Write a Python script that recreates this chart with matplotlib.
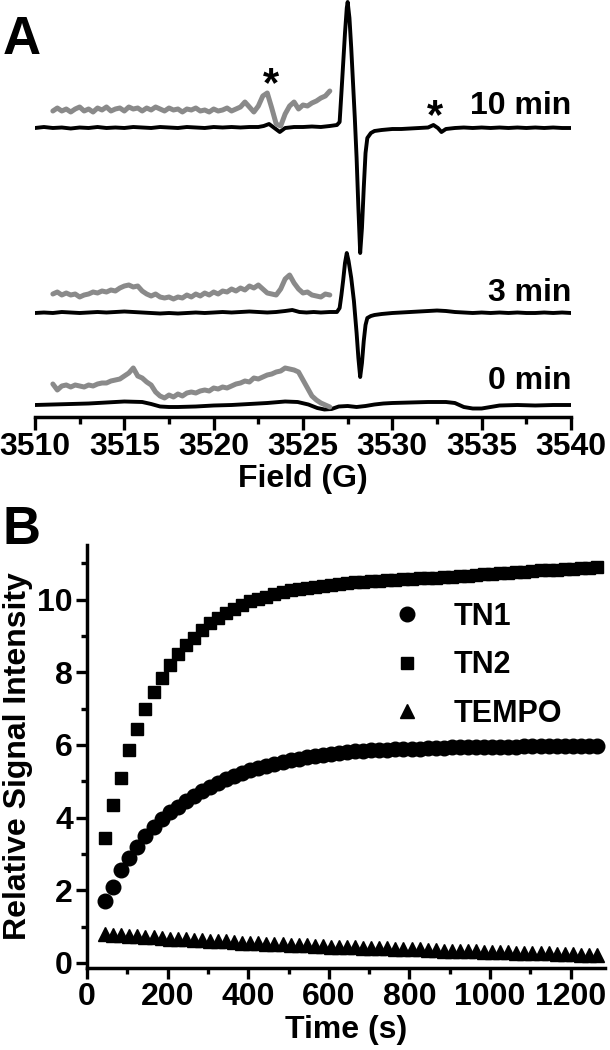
import numpy as np
import matplotlib
matplotlib.use("Agg")
import matplotlib.pyplot as plt

plt.rcParams['font.family'] = ['Liberation Sans', 'DejaVu Sans']
plt.rcParams['font.weight'] = 'bold'

W, H = 610, 1050

# ---------------- panel A: EPR spectra (a.u., baseline = 0) ----------------
field_10 = [3510.0, 3510.5, 3511.0, 3511.5, 3512.0, 3512.5, 3513.0, 3513.5, 3514.0,
            3514.5, 3515.0, 3515.5, 3516.0, 3516.5, 3517.0, 3517.5, 3518.0, 3518.5,
            3519.0, 3519.5, 3520.0, 3520.5, 3521.0, 3521.5, 3522.0, 3522.5, 3522.8,
            3523.1, 3523.4, 3523.7, 3524.0, 3524.5, 3525.0, 3525.5, 3526.0, 3526.5,
            3526.9, 3527.05, 3527.15, 3527.25, 3527.35, 3527.45, 3527.5, 3527.6,
            3527.7, 3527.8, 3527.9, 3528.0, 3528.1, 3528.2, 3528.3, 3528.4, 3528.5,
            3528.6, 3528.8, 3529.0, 3529.4, 3530.0, 3530.5, 3531.0, 3531.5, 3532.0,
            3532.3, 3532.55, 3532.75, 3533.0, 3533.5, 3534.0, 3534.5, 3535.0, 3535.5,
            3536.0, 3536.5, 3537.0, 3537.5, 3538.0, 3538.5, 3539.0, 3539.5, 3540.0]
sig_10 = [0, 1, 0, 0.5, -0.5, 0.5, 0, 1, 0, 0.5, 0, 1, 0.5, 0, 1, 0.5, 0, 1,
          0.5, 0, 1, 0.5, 1, 0.5, 1, 1, 2, 4, 0, -4, 0, 1, 1, 1.5, 1, 2,
          3, 6, 35, 65, 95, 120, 126, 110,
          80, 45, 10, -30, -80, -125, -100, -60, -25,
          -10, -5, -3, -2, -1, -1, -0.5, 0, 0.5,
          3, 0, -4, -1, 0, 0.5, 0, 0.5, 0,
          0.5, 0, 0.5, 0, 0.5, 0, 0.5, 0, 0]

field_3 = [3510.0, 3510.5, 3511.0, 3511.5, 3512.0, 3512.5, 3513.0, 3513.5, 3514.0,
           3514.5, 3515.0, 3515.5, 3516.0, 3516.5, 3517.0, 3517.5, 3518.0, 3518.5,
           3519.0, 3519.5, 3520.0, 3520.5, 3521.0, 3521.5, 3522.0, 3522.5, 3523.0,
           3523.5, 3524.0, 3524.4, 3524.8, 3525.2, 3525.6, 3526.0, 3526.5, 3526.9,
           3527.05, 3527.15, 3527.25, 3527.35, 3527.45, 3527.55, 3527.7, 3527.85,
           3528.0, 3528.1, 3528.2, 3528.3, 3528.4, 3528.5, 3528.6, 3528.8, 3529.0,
           3529.4, 3530.0, 3530.5, 3531.0, 3531.5, 3532.0, 3532.5, 3533.0, 3533.5,
           3534.0, 3534.5, 3535.0, 3535.5, 3536.0, 3536.5, 3537.0, 3537.5, 3538.0,
           3538.5, 3539.0, 3539.5, 3540.0]
sig_3 = [0, 0.5, 0, 1, 0.5, 0, 0.5, 1, 0.5, 1, 1.5, 1, 0.5, 0, -0.5, 0, -0.5, 0,
         0.5, 0, 0.5, 1, 0.5, 1, 1.5, 1, 0.5, 1, 2, 3, 1, 0.5, 1, 0.5, 1, 1,
         5, 18, 33, 50, 60, 52, 35, 12,
         -20, -45, -64, -50, -28, -12, -5, -3, -2,
         -1, 0, 0.5, 1, 1.5, 2, 2.5, 2, 1,
         0.5, 0, 0.5, 0, 0.5, 0, 0.5, 0, 0,
         0.5, 0, 0.5, 0]

field_0 = [3510.0, 3511.0, 3512.0, 3513.0, 3514.0, 3515.0, 3516.0, 3516.5, 3517.0,
           3517.5, 3518.0, 3519.0, 3520.0, 3521.0, 3522.0, 3523.0, 3524.0, 3524.7,
           3525.3, 3525.8, 3526.2, 3526.6, 3527.0, 3527.5, 3528.0, 3528.5, 3529.0,
           3529.5, 3530.0, 3531.0, 3532.0, 3533.0, 3533.5, 3534.0, 3534.5, 3535.0,
           3535.5, 3536.0, 3537.0, 3538.0, 3539.0, 3540.0]
sig_0 = [0, 0.5, 1, 1.5, 2.5, 3.5, 3, 1, -1.5, -2, -2, -1.5, -0.5, 0, 1, 2, 3.5, 3,
         0.5, -3, -4.5, -4, -1.5, -1, -2, -1, 0.5, 1.5, 2, 2.5, 3, 3, 2, -2, -3.5, -3.5,
         -2, -0.5, 0, -0.5, 0, 0]

# grey traces: magnified low-field region (a.u., baseline = 0)
field_grey = np.arange(3511.0, 3526.51, 0.25)
grey_10 = [-1, 2, -1, 1, -2, 1, 3, -1, 1, -2, 2, 0, 3, -1, 1, 2, -1, 3, 1, 2, -1,
           2, 0, 3, 1, -1, 2, 0, 1, -2, 1, 0, 2, -1, 0, -2, 1, -1, 0, 2, -1, 1, 3,
           8, 3, -2, 4, 14, 17, 2, -14, -16, -4, 4, 8, 1, 5, 4, 7, 9, 12, 14, 19]
grey_3 = [1, 3, 0, 2, 0, 1, -2, 0, 1, 3, 2, 4, 3, 5, 4, 7, 9, 10, 8, 9, 4, 1,
          -1, 1, -2, -3, -2, -4, -2, -3, 0, -2, 1, -1, 2, 0, 3, 1, 4, 3, 6, 4, 7,
          5, 9, 7, 10, 6, 2, 1, 0, 6, 16, 20, 12, 6, 2, 3, 0, -1, -2, 1, 0]
grey_0 = [6, 0, 4, 5, 3, 5, 4, 3, 5, 4, 6, 7, 7, 9, 10, 11, 14, 17, 22, 14, 12,
          8, 5, -2, -6, -8, -5, -7, -4, -6, -3, -2, -3, -1, 0, -1, 2, 1, 3, 2, 4,
          6, 7, 9, 8, 12, 11, 13, 15, 16, 18, 19, 22, 21, 20, 18, 10, 2, -6, -10,
          -13, -15, -17]

trace_labels = ["10 min", "3 min", "0 min"]
black_offsets = [289, 104, 12]
grey_offsets = [307, 122, 27]
label_offsets = [311, 124, 36]

# ---------------- panel B: kinetics ----------------
time_s = np.arange(45, 1266, 20)
tn1 = [1.7, 2.1, 2.55, 2.9, 3.2, 3.5, 3.75, 3.95, 4.15, 4.3, 4.45, 4.6, 4.72, 4.85,
       4.95, 5.05, 5.15, 5.22, 5.3, 5.37, 5.43, 5.48, 5.53, 5.58, 5.62, 5.66, 5.7,
       5.73, 5.76, 5.78, 5.8, 5.82, 5.84, 5.85, 5.86, 5.87, 5.88, 5.89, 5.9, 5.9,
       5.91, 5.92, 5.92, 5.93, 5.93, 5.94, 5.94, 5.94, 5.95, 5.95, 5.95, 5.95, 5.96,
       5.96, 5.96, 5.96, 5.96, 5.96, 5.96, 5.96, 5.96, 5.96]
tn2 = [3.45, 4.35, 5.1, 5.85, 6.45, 7.0, 7.45, 7.85, 8.2, 8.5, 8.75, 8.95, 9.15,
       9.35, 9.5, 9.62, 9.75, 9.85, 9.95, 10.02, 10.08, 10.14, 10.2, 10.25, 10.28,
       10.32, 10.35, 10.38, 10.4, 10.42, 10.45, 10.47, 10.48, 10.5, 10.52, 10.53,
       10.55, 10.56, 10.57, 10.58, 10.6, 10.6, 10.62, 10.63, 10.65, 10.66, 10.68,
       10.7, 10.7, 10.72, 10.73, 10.75, 10.76, 10.78, 10.8, 10.8, 10.82, 10.84,
       10.85, 10.87, 10.88, 10.9]
tempo = [0.80, 0.78, 0.76, 0.75, 0.73, 0.72, 0.70, 0.69, 0.67, 0.66, 0.65, 0.63,
         0.62, 0.61, 0.60, 0.59, 0.58, 0.56, 0.55, 0.54, 0.53, 0.52, 0.51, 0.50,
         0.49, 0.48, 0.47, 0.46, 0.45, 0.45, 0.44, 0.43, 0.42, 0.41, 0.40, 0.40,
         0.39, 0.38, 0.37, 0.37, 0.36, 0.35, 0.34, 0.34, 0.33, 0.32, 0.32, 0.31,
         0.30, 0.30, 0.29, 0.28, 0.28, 0.27, 0.26, 0.26, 0.25, 0.24, 0.24, 0.23,
         0.22, 0.22]
series = [("TN1", tn1, "o", 10.5), ("TN2", tn2, "s", 9), ("TEMPO", tempo, "^", 10)]


def px_axes(left, top, right, bottom):
    return [left / W, 1 - bottom / H, (right - left) / W, (bottom - top) / H]


fig = plt.figure(figsize=(W / 100, H / 100), dpi=100)
FS = 23

# ---- panel A ----
axA = fig.add_axes(px_axes(35, 0, 571, 417))
spectra = [(field_10, sig_10), (field_3, sig_3), (field_0, sig_0)]
greys = [grey_10, grey_3, grey_0]
for (fx, sy), g, lab, ob, og, ol in zip(spectra, greys, trace_labels,
                                         black_offsets, grey_offsets, label_offsets):
    axA.plot(fx, np.asarray(sy) + ob, color='black', lw=2.8,
             solid_joinstyle='round', solid_capstyle='round')
    axA.plot(field_grey, np.asarray(g) + og, color='#8a8a8a', lw=3.6, zorder=3,
             solid_joinstyle='round', solid_capstyle='round')
    axA.text(3540, ol, lab, ha='right', va='center', fontsize=FS, fontweight='bold')
axA.text(3523.2, 332, "*", ha='center', va='center', fontsize=30, fontweight='bold')
axA.text(3532.4, 300, "*", ha='center', va='center', fontsize=30, fontweight='bold')
axA.set_xlim(3510, 3540)
axA.set_ylim(0, 417)
for s in ('left', 'right', 'top'):
    axA.spines[s].set_visible(False)
axA.spines['bottom'].set_linewidth(2.5)
axA.set_yticks([])
axA.set_xticks(np.arange(3510, 3541, 5))
axA.set_xticks(np.arange(3512.5, 3540, 5), minor=True)
axA.tick_params(axis='x', which='major', length=9, width=2.4, labelsize=FS, pad=2)
axA.tick_params(axis='x', which='minor', length=5, width=2.4)
axA.set_xlabel("Field (G)", fontsize=FS, fontweight='bold', labelpad=1)
axA.patch.set_visible(False)

# ---- panel B ----
axB = fig.add_axes(px_axes(87, 545, 605, 968))
for name, vals, mk, ms in series:
    axB.plot(time_s, vals, linestyle='none', marker=mk, markersize=ms,
             color='black', label=name)
axB.set_xlim(0, 1285)
axB.set_ylim(-0.14, 11.5)
axB.set_xticks(np.arange(0, 1201, 200))
axB.set_xticks(np.arange(100, 1300, 200), minor=True)
axB.set_yticks(np.arange(0, 11, 2))
axB.set_yticks(np.arange(1, 12, 2), minor=True)
for s in ('right', 'top'):
    axB.spines[s].set_visible(False)
for s in ('left', 'bottom'):
    axB.spines[s].set_linewidth(2.5)
axB.tick_params(which='major', length=8, width=2.4, labelsize=FS, pad=2)
axB.tick_params(which='minor', length=4, width=2.4)
axB.set_xlabel("Time (s)", fontsize=FS, fontweight='bold', labelpad=2)
axB.set_ylabel("Relative Signal Intensity", fontsize=FS, fontweight='bold', labelpad=3)
axB.legend(loc='upper left', bbox_to_anchor=(0.589, 0.865), frameon=False,
           fontsize=22, handlelength=1.0, handletextpad=1.0, labelspacing=0.6,
           borderaxespad=0, borderpad=0)

fig.text(3 / W, 1 - 40 / H, "A", fontsize=38, fontweight='bold', va='center')
fig.text(3 / W, 1 - 530 / H, "B", fontsize=38, fontweight='bold', va='center')

fig.savefig("out.png", dpi=100)
